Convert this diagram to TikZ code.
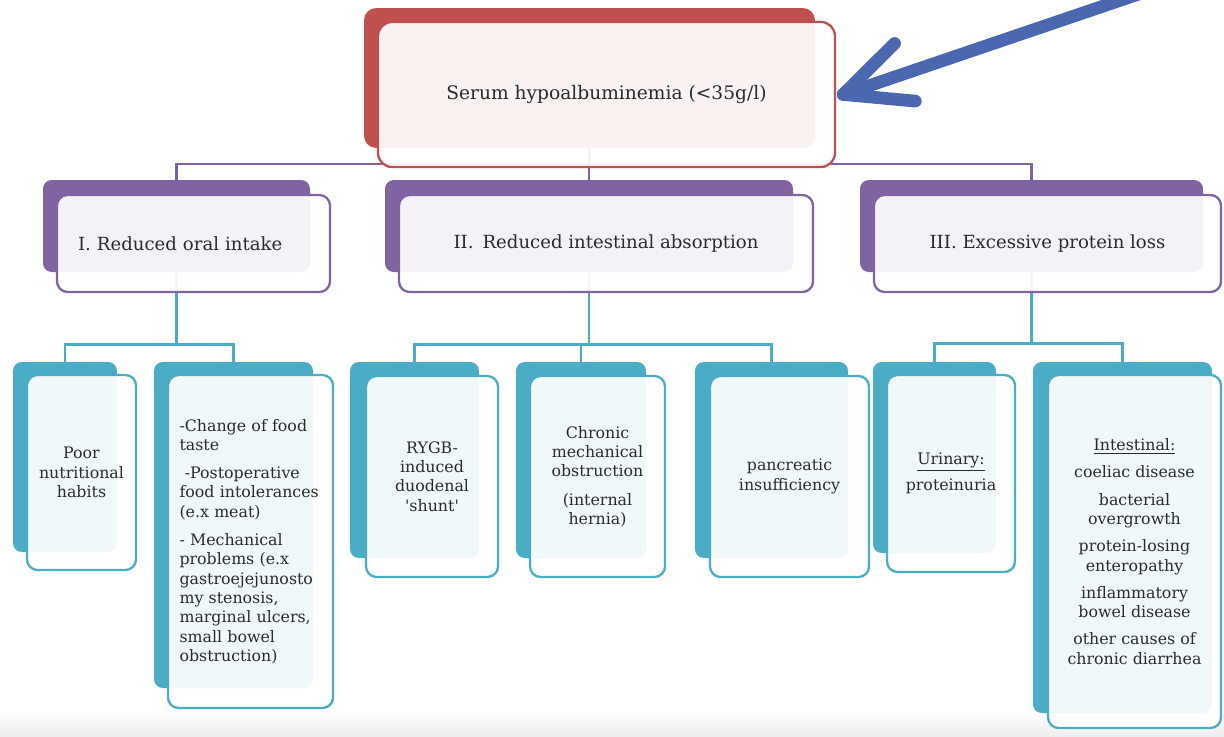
\documentclass[tikz,border=0pt]{standalone}
\usepackage{fontspec}
\setmainfont{DejaVu Serif}
\definecolor{hyred}{HTML}{C0504D}
\definecolor{hypurple}{HTML}{8064A2}
\definecolor{hyteal}{HTML}{4BACC6}
\definecolor{hyblue}{HTML}{4A67AF}
\definecolor{hytext}{HTML}{2B2B2B}
\usetikzlibrary{calc,backgrounds}
\tikzset{
  span/.style n args={4}{at={({(#1+#3)/2},{(#2+#4)/2})},
    minimum width={(#3-#1)*0.02cm}, minimum height={(#4-#2)*0.02cm}},
  back/.style={inner sep=0pt, fill=#1, rounded corners=5pt},
  front/.style={inner sep=0pt, draw=#1, line width=1.3pt, fill=white, fill opacity=0.92,
    text opacity=1, text=hytext, rounded corners=6pt, align=center},
  lvlA/.style={font=\fontsize{10.3}{12}\selectfont},
  lvlB/.style={font=\fontsize{9}{11}\selectfont},
  elbow/.style={draw=#1, line width=1.5pt},
  pointer/.style={draw=hyblue, line width=7.2pt, line cap=round, line join=round},
}

\begin{document}
\begin{tikzpicture}[x=0.02cm, y=-0.02cm]
\useasboundingbox (0,0) rectangle (1224,737);
% root
\node[back=hyred, rounded corners=7pt, span={364}{8}{815}{148}] (root) {};
\node[front=hyred, font=\fontsize{10.6}{12}\selectfont, rounded corners=8pt, span={378}{22}{835}{167}] (root-f)
  {Serum hypoalbuminemia (<35g/l)};
% mechanisms
\node[back=hypurple, span={43}{180}{310}{272}] (oral) {};
\node[front=hypurple, lvlA, text width=4.62cm, align=left, span={57}{195}{330}{292}] (oral-f) {I. Reduced oral intake};
\node[back=hypurple, span={385}{180}{793}{272}] (absorb) {};
\node[front=hypurple, lvlA, span={399}{195}{813}{292}] (absorb-f) {II.\enspace Reduced intestinal absorption};
\node[back=hypurple, span={860}{180}{1203}{272}] (loss) {};
\node[front=hypurple, lvlA, span={874}{195}{1221}{292}] (loss-f) {III. Excessive protein loss};
% causes
\node[back=hyteal, span={13}{362}{117}{552}] (poor) {};
\node[front=hyteal, lvlB, span={27}{375}{136}{570}] (poor-f) {Poor\\ nutritional\\ habits};
\node[back=hyteal, span={154}{362}{313}{688}] (taste) {};
\node[front=hyteal, lvlB, text width=2.84cm, align=left, span={168}{375}{333}{708}] (taste-f)
  {-Change of food\\ taste\\[5pt] \ -Postoperative\\ food intolerances\\ (e.x meat)\\[5pt]
   - Mechanical\\ problems (e.x\\ gastroejejunosto\\ my stenosis,\\ marginal ulcers,\\ small bowel\\ obstruction)};
\node[back=hyteal, span={350}{362}{479}{558}] (shunt) {};
\node[front=hyteal, lvlB, span={366}{376}{498}{577}] (shunt-f)
  {RYGB-\\ induced\\ duodenal\\ \textquotesingle shunt\textquotesingle};
\node[back=hyteal, span={516}{362}{646}{558}] (hernia) {};
\node[front=hyteal, lvlB, span={530}{376}{665}{577}] (hernia-f) {Chronic\\ mechanical\\ obstruction\\[5pt] (internal\\ hernia)};
\node[back=hyteal, span={695}{362}{848}{558}] (pancreas) {};
\node[front=hyteal, lvlB, span={710}{376}{869}{577}] (pancreas-f) {pancreatic\\ insufficiency};
\node[back=hyteal, span={873}{362}{996}{553}] (urine) {};
\node[front=hyteal, lvlB, span={887}{375}{1015}{572}] (urine-f) {\underline{Urinary:}\\[4pt] proteinuria};
\node[back=hyteal, span={1033}{362}{1212}{713}] (gut) {};
\node[front=hyteal, lvlB, span={1048}{375}{1221}{728}] (gut-f)
  {\underline{Intestinal:}\\[4.5pt] coeliac disease\\[4.5pt] bacterial\\ overgrowth\\[4.5pt]
   protein-losing\\ enteropathy\\[4.5pt] inflammatory\\ bowel disease\\[4.5pt] other causes of\\ chronic diarrhea};
% connectors
\begin{scope}[on background layer]
  \fill[top color=white, bottom color=black!7] (0,710) rectangle (1224,737);
  \draw[elbow=hypurple, line width=1.2pt] (root.south) -- ++(0,16) -| (oral.north);
  \draw[elbow=hypurple, line width=1.2pt] (root.south) -- ++(0,16) -| (absorb.north);
  \draw[elbow=hypurple, line width=1.2pt] (root.south) -- ++(0,16) -| (loss.north);
  \draw[elbow=hyteal] (oral.south) -- ++(0,72) -| (poor.north);
  \draw[elbow=hyteal] (oral.south) -- ++(0,72) -| (taste.north);
  \draw[elbow=hyteal] (absorb.south) -- ++(0,72) -| (shunt.north);
  \draw[elbow=hyteal] (absorb.south) -- ++(0,72) -| (hernia.north);
  \draw[elbow=hyteal] (absorb.south) -- ++(0,72) -| (pancreas.north);
  \draw[elbow=hyteal] (loss.south) -- ++(0,71) -| (urine.north);
  \draw[elbow=hyteal] (loss.south) -- ++(0,71) -| (gut.north);
\end{scope}
% pointer arrow
\coordinate (tip) at ([xshift=0.14cm]root-f.east);
\coordinate (tail) at (1180,-20);
\begin{scope}
  \clip (0,0) rectangle (1224,737);
  \draw[pointer] (tail) -- (tip);
\end{scope}
\draw[pointer] ($(tip)!1.45cm!26:(tail)$) -- (tip) -- ($(tip)!1.45cm!-24:(tail)$);
\end{tikzpicture}
\end{document}
